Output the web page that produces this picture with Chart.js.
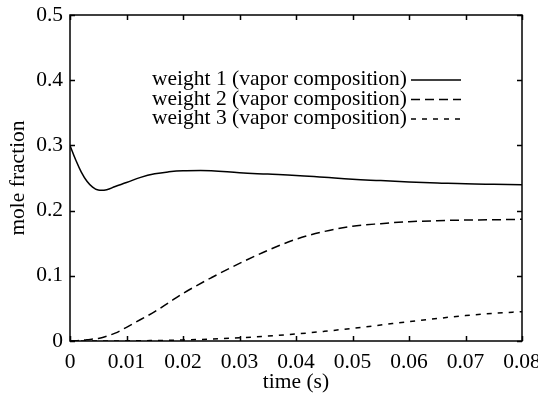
<!DOCTYPE html>
<html><head><meta charset="utf-8">
<script src="https://cdn.jsdelivr.net/npm/chart.js@4/dist/chart.umd.min.js"></script>
<style>html,body{margin:0;padding:0;background:#fff;overflow:hidden}#wrap{width:538px;height:395px}</style>
</head><body><div id="wrap"><canvas id="c" width="538" height="395"></canvas></div>
<script>
const times   = [0, 0.001, 0.002, 0.003, 0.004, 0.005, 0.0065, 0.008, 0.01, 0.0125, 0.015, 0.0175, 0.02, 0.025, 0.03, 0.035, 0.04, 0.045, 0.05, 0.055, 0.06, 0.065, 0.07, 0.075, 0.08];
const weight1 = [0.300, 0.278, 0.259, 0.245, 0.236, 0.2315, 0.232, 0.237, 0.243, 0.251, 0.2565, 0.2595, 0.261, 0.2612, 0.258, 0.256, 0.254, 0.251, 0.248, 0.246, 0.244, 0.2425, 0.241, 0.2403, 0.2398];
const weight2 = [0, 0.0003, 0.001, 0.0018, 0.003, 0.004, 0.0075, 0.012, 0.021, 0.033, 0.045, 0.059, 0.073, 0.097, 0.119, 0.139, 0.156, 0.168, 0.176, 0.180, 0.183, 0.1845, 0.1855, 0.186, 0.1866];
const weight3 = [0, 0, 0, 0, 0, 0, 0, 0, 0.0002, 0.0004, 0.0007, 0.001, 0.0015, 0.003, 0.005, 0.0075, 0.0107, 0.0148, 0.0194, 0.0245, 0.0297, 0.0345, 0.039, 0.0425, 0.045];
const seriesLabels = ['weight 1 (vapor composition)', 'weight 2 (vapor composition)', 'weight 3 (vapor composition)'];
const xTickValues = [0, 0.01, 0.02, 0.03, 0.04, 0.05, 0.06, 0.07, 0.08];
const xTickLabels = ['0', '0.01', '0.02', '0.03', '0.04', '0.05', '0.06', '0.07', '0.08'];
const yTickValues = [0, 0.1, 0.2, 0.3, 0.4, 0.5];
const yTickLabels = ['0', '0.1', '0.2', '0.3', '0.4', '0.5'];
const xTitle = 'time (s)';
const yTitle = 'mole fraction';

const FONT = 'Liberation Serif';
const FSIZE = 21.5;
const dashes = [[], [9, 5], [5, 6]];
const seriesValues = [weight1, weight2, weight3];

const datasets = seriesValues.map((vals, i) => ({
  label: seriesLabels[i],
  data: times.map((t, j) => ({x: t, y: vals[j]})),
  borderColor: '#000',
  borderWidth: 1.5,
  borderDash: dashes[i],
  pointRadius: 0,
  fill: false,
  tension: 0.4,
  cubicInterpolationMode: i === 0 ? 'default' : 'monotone'
}));

const framePlugin = {
  id: 'frame',
  afterDatasetsDraw(chart) {
    const ctx = chart.ctx, a = chart.chartArea;
    const xs = chart.scales.x, ys = chart.scales.y;
    ctx.save();
    ctx.strokeStyle = '#000';
    ctx.lineWidth = 1.5;
    ctx.setLineDash([]);
    ctx.strokeRect(a.left, a.top, a.right - a.left, a.bottom - a.top);
    const tl = 5;
    ctx.beginPath();
    xTickValues.forEach(v => {
      const px = Math.round(xs.getPixelForValue(v)) + 0.5;
      ctx.moveTo(px, a.bottom); ctx.lineTo(px, a.bottom - tl);
      ctx.moveTo(px, a.top); ctx.lineTo(px, a.top + tl);
    });
    yTickValues.forEach(v => {
      const py = Math.round(ys.getPixelForValue(v)) + 0.5;
      ctx.moveTo(a.left, py); ctx.lineTo(a.left + tl, py);
      ctx.moveTo(a.right, py); ctx.lineTo(a.right - tl, py);
    });
    ctx.stroke();
    // legend
    ctx.font = FSIZE + 'px "' + FONT + '"';
    ctx.fillStyle = '#000';
    ctx.textAlign = 'right';
    ctx.textBaseline = 'middle';
    chart.data.datasets.forEach((ds, i) => {
      const y = 79.5 + i * 19.5;
      ctx.fillText(ds.label, 407, y);
      ctx.beginPath();
      ctx.setLineDash(ds.borderDash);
      ctx.lineWidth = ds.borderWidth;
      ctx.moveTo(411, y + 0.5); ctx.lineTo(461, y + 0.5);
      ctx.stroke();
    });
    ctx.restore();
  }
};

new Chart(document.getElementById('c'), {
  type: 'line',
  data: {datasets},
  plugins: [framePlugin],
  options: {
    responsive: false,
    animation: false,
    devicePixelRatio: 1,
    layout: {padding: {left: 0, right: 16, top: 15, bottom: 0}},
    plugins: {legend: {display: false}, tooltip: {enabled: false}},
    scales: {
      x: {
        type: 'linear', min: 0, max: 0.08,
        afterBuildTicks: s => { s.ticks = xTickValues.map(v => ({value: v})); },
        afterFit: s => { s.height = 54; s.paddingLeft = 0; s.paddingRight = 0; },
        grid: {display: false, drawTicks: false},
        border: {display: false},
        ticks: {autoSkip: false, maxRotation: 0, minRotation: 0, padding: 8, color: '#000',
                font: {family: FONT, size: FSIZE}, callback: (v, i) => xTickLabels[i]},
        title: {display: true, text: xTitle, color: '#000', font: {family: FONT, size: FSIZE}, padding: {top: 0, bottom: 0}}
      },
      y: {
        type: 'linear', min: 0, max: 0.5,
        afterBuildTicks: s => { s.ticks = yTickValues.map(v => ({value: v})); },
        afterFit: s => { s.width = 70; s.paddingTop = 0; s.paddingBottom = 0; },
        grid: {display: false, drawTicks: false},
        border: {display: false},
        ticks: {autoSkip: false, padding: 7, color: '#000',
                font: {family: FONT, size: FSIZE}, callback: (v, i) => yTickLabels[i]},
        title: {display: true, text: yTitle, color: '#000', font: {family: FONT, size: FSIZE}, padding: {top: 5, bottom: 0}}
      }
    }
  }
});
</script>
</body></html>
